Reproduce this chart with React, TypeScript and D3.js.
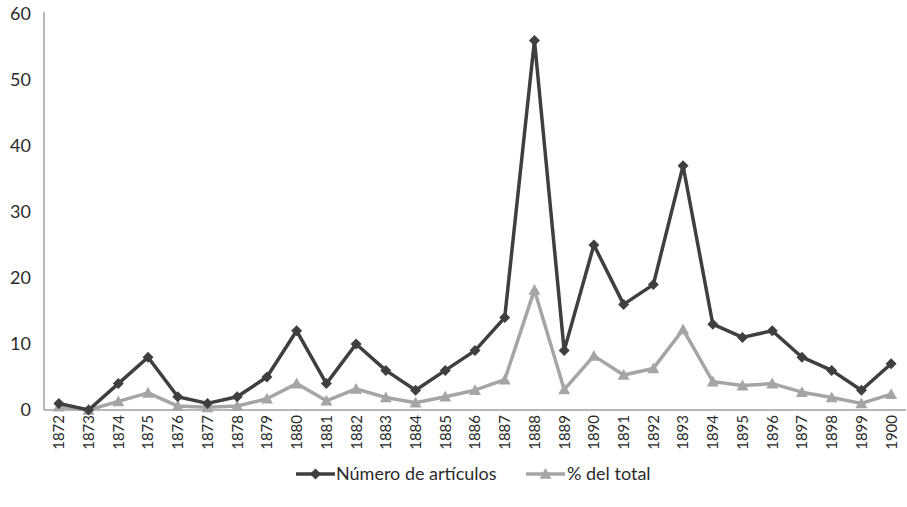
import React from "react";
import * as d3 from "d3";

const years = ["1872","1873","1874","1875","1876","1877","1878","1879","1880","1881","1882","1883","1884","1885","1886","1887","1888","1889","1890","1891","1892","1893","1894","1895","1896","1897","1898","1899","1900"];
const numeroArticulos = [1,0,4,8,2,1,2,5,12,4,10,6,3,6,9,14,56,9,25,16,19,37,13,11,12,8,6,3,7];
const porcentajeTotal = [0.5,0,1.3,2.6,0.6,0.4,0.6,1.7,4.0,1.4,3.2,1.9,1.1,2.0,3.0,4.6,18.2,3.1,8.2,5.3,6.3,12.2,4.3,3.7,4.0,2.7,1.9,1.0,2.4];
const yTicks = [0,10,20,30,40,50,60];
const legendLabels = ["Número de artículos", "% del total"];

const W = 907, H = 507;
const left = 44, right = 906, top = 14, bottom = 410;
const font = "Lato, 'Open Sans', sans-serif";
const dark = "#3f3f3f", light = "#a5a5a5";
const textCol = "#2b2b2b";

export default function App() {
  const x = d3.scaleBand<string>().domain(years).range([left, right]);
  const y = d3.scaleLinear().domain([0, 60]).range([bottom, top]);
  const cx = (d: string) => (x(d) as number) + x.bandwidth() / 2;
  const line = d3.line<number>().x((_, i) => cx(years[i])).y((v) => y(v));
  const diamond = (px: number, py: number, s: number) =>
    `M${px},${py - s}L${px + s},${py}L${px},${py + s}L${px - s},${py}Z`;
  const tri = (px: number, py: number, s: number) =>
    `M${px},${py - s}L${px + s},${py + s * 0.8}L${px - s},${py + s * 0.8}Z`;
  const legY = 474;
  const l2 = 526;
  return (
    <svg width={W} height={H} style={{ position: "absolute", left: 0, top: 0, background: "#fff" }}>
      <line x1={left} x2={left} y1={top - 2} y2={bottom} stroke="#a0a0a0" strokeWidth={1.5} />
      <line x1={left} x2={right} y1={bottom} y2={bottom} stroke="#a0a0a0" strokeWidth={1.5} />
      {yTicks.map((t) => (
        <text key={t} x={31} y={y(t)} dy="0.36em" textAnchor="end" fontFamily={font} fontSize={18} fill={textCol}>{t}</text>
      ))}
      {years.map((yr) => (
        <text key={yr} transform={`translate(${cx(yr)},${bottom + 5}) rotate(-90)`} dy="0.36em" textAnchor="end" fontFamily={font} fontSize={15} fill={textCol}>{yr}</text>
      ))}
      <path d={line(porcentajeTotal) || ""} fill="none" stroke={light} strokeWidth={3.5} strokeLinejoin="round" />
      {porcentajeTotal.map((v, i) => (
        <path key={"t" + i} d={tri(cx(years[i]), y(v), 6)} fill={light} />
      ))}
      <path d={line(numeroArticulos) || ""} fill="none" stroke={dark} strokeWidth={3.5} strokeLinejoin="round" />
      {numeroArticulos.map((v, i) => (
        <path key={"d" + i} d={diamond(cx(years[i]), y(v), 5.5)} fill={dark} />
      ))}
      <line x1={296} x2={335} y1={legY} y2={legY} stroke={dark} strokeWidth={3.5} />
      <path d={diamond(315.5, legY, 5.5)} fill={dark} />
      <text x={336} y={legY} dy="0.36em" fontFamily={font} fontSize={18} fill={textCol}>{legendLabels[0]}</text>
      <line x1={l2} x2={l2 + 39} y1={legY} y2={legY} stroke={light} strokeWidth={3.5} />
      <path d={tri(l2 + 19.5, legY, 6)} fill={light} />
      <text x={l2 + 41} y={legY} dy="0.36em" fontFamily={font} fontSize={18} fill={textCol}>{legendLabels[1]}</text>
    </svg>
  );
}
